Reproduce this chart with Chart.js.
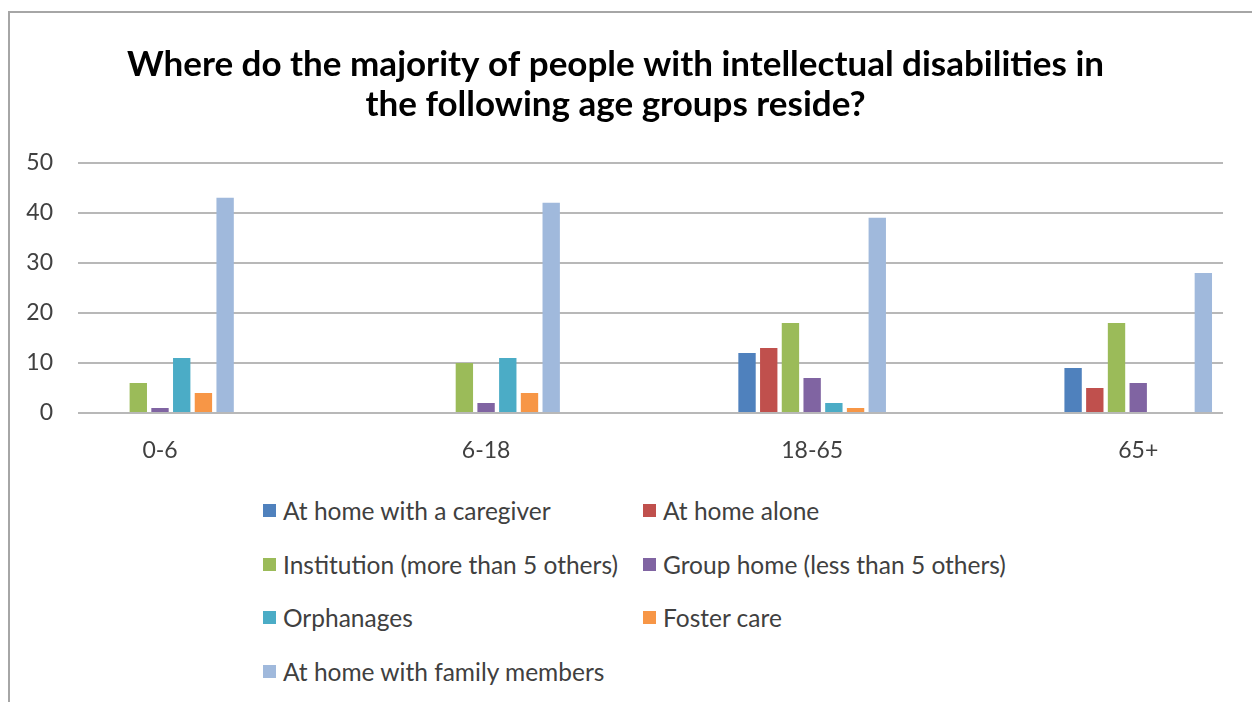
<!DOCTYPE html>
<html>
<head>
<meta charset="utf-8">
<script src="https://cdn.jsdelivr.net/npm/chart.js@4"></script>
<style>
  body { margin: 0; background: #fff; font-family: Lato, "Open Sans", sans-serif; }
  #frame { position: absolute; left: 8px; top: 11px; width: 1250px; height: 760px; border: 2px solid #a6a6a6; }
  #chart-wrap { position: absolute; left: 0; top: 0; width: 1252px; height: 480px; }
  #legend { position: absolute; left: 263px; top: 0; width: 900px; color: #404040; font-size: 24.5px; }
  .item { position: absolute; display: flex; align-items: center; white-space: nowrap; height: 26px; }
  .box { width: 13px; height: 13px; margin-right: 7px; }
</style>
</head>
<body>
<div id="frame"></div>
<div id="chart-wrap"><canvas id="chart"></canvas></div>
<div id="legend"></div>
<script>
const categories = ["0-6", "6-18", "18-65", "65+"];
const seriesNames = [
    "At home with a caregiver",
    "At home alone",
    "Institution (more than 5 others)",
    "Group home (less than 5 others)",
    "Orphanages",
    "Foster care",
    "At home with family members"
];
const caregiver   = [null, null, 12, 9];
const alone       = [null, null, 13, 5];
const institution = [6, 10, 18, 18];
const groupHome   = [1, 2, 7, 6];
const orphanages  = [11, 11, 2, null];
const fosterCare  = [4, 4, 1, null];
const family      = [43, 42, 39, 28];
const yTicks = [0, 10, 20, 30, 40, 50];

const colors = ["#4f81bd", "#c0504d", "#9bbb59", "#8064a2", "#4bacc6", "#f79646", "#a0b9dc"];
const allSeries = [caregiver, alone, institution, groupHome, orphanages, fosterCare, family];

function start() {
    const datasets = allSeries.map((values, i) => ({
        label: seriesNames[i],
        data: values.map((v, j) => ({ x: j, y: v })),
        backgroundColor: colors[i],
        borderWidth: 0,
        categoryPercentage: 0.466,
        barPercentage: 0.8
    }));

    const ctx = document.getElementById("chart").getContext("2d");
    new Chart(ctx, {
        type: "bar",
        data: { datasets: datasets },
        options: {
            responsive: true,
            maintainAspectRatio: false,
            animation: false,
            layout: { padding: { left: 8, right: 29, top: 0, bottom: 17 } },
            plugins: {
                legend: { display: false },
                tooltip: { enabled: false },
                title: {
                    display: true,
                    text: ["Where do the majority of people with intellectual disabilities in",
                           "the following age groups reside?"],
                    color: "#000",
                    font: { family: "Lato", size: 35, weight: "bold", lineHeight: 1.14 },
                    padding: { top: 45, bottom: 38 }
                }
            },
            scales: {
                x: {
                    type: "linear",
                    min: -0.2515,
                    max: 3.26,
                    offset: false,
                    afterBuildTicks: (scale) => {
                        scale.ticks = categories.map((c, i) => ({ value: i }));
                    },
                    afterFit: (scale) => { scale.height = 50; },
                    grid: { display: false, drawTicks: false },
                    border: { display: false },
                    ticks: {
                        color: "#404040",
                        font: { family: "Lato", size: 23 },
                        padding: 24,
                        maxRotation: 0,
                        callback: (v) => categories[v]
                    }
                },
                y: {
                    min: yTicks[0],
                    max: yTicks[yTicks.length - 1],
                    afterBuildTicks: (scale) => {
                        scale.ticks = yTicks.map(v => ({ value: v }));
                    },
                    afterFit: (scale) => { scale.width = 70; },
                    grid: { color: "#b8b8b8", lineWidth: 2, drawTicks: false },
                    border: { display: false },
                    ticks: {
                        color: "#404040",
                        font: { family: "Lato", size: 23 },
                        padding: 25
                    }
                }
            }
        }
    });

    // legend in two columns, built from the series names and colours
    const legend = document.getElementById("legend");
    const rowY = [510, 564, 617, 671];
    seriesNames.forEach((name, i) => {
        const item = document.createElement("div");
        item.className = "item";
        item.style.left = (i % 2 === 0 ? 0 : 380) + "px";
        item.style.top = (rowY[Math.floor(i / 2)] - 13) + "px";
        item.innerHTML = `<span class="box" style="background:${colors[i]}"></span><span>${name}</span>`;
        legend.appendChild(item);
    });
}

window.addEventListener("load", start, false);
</script>
</body>
</html>
